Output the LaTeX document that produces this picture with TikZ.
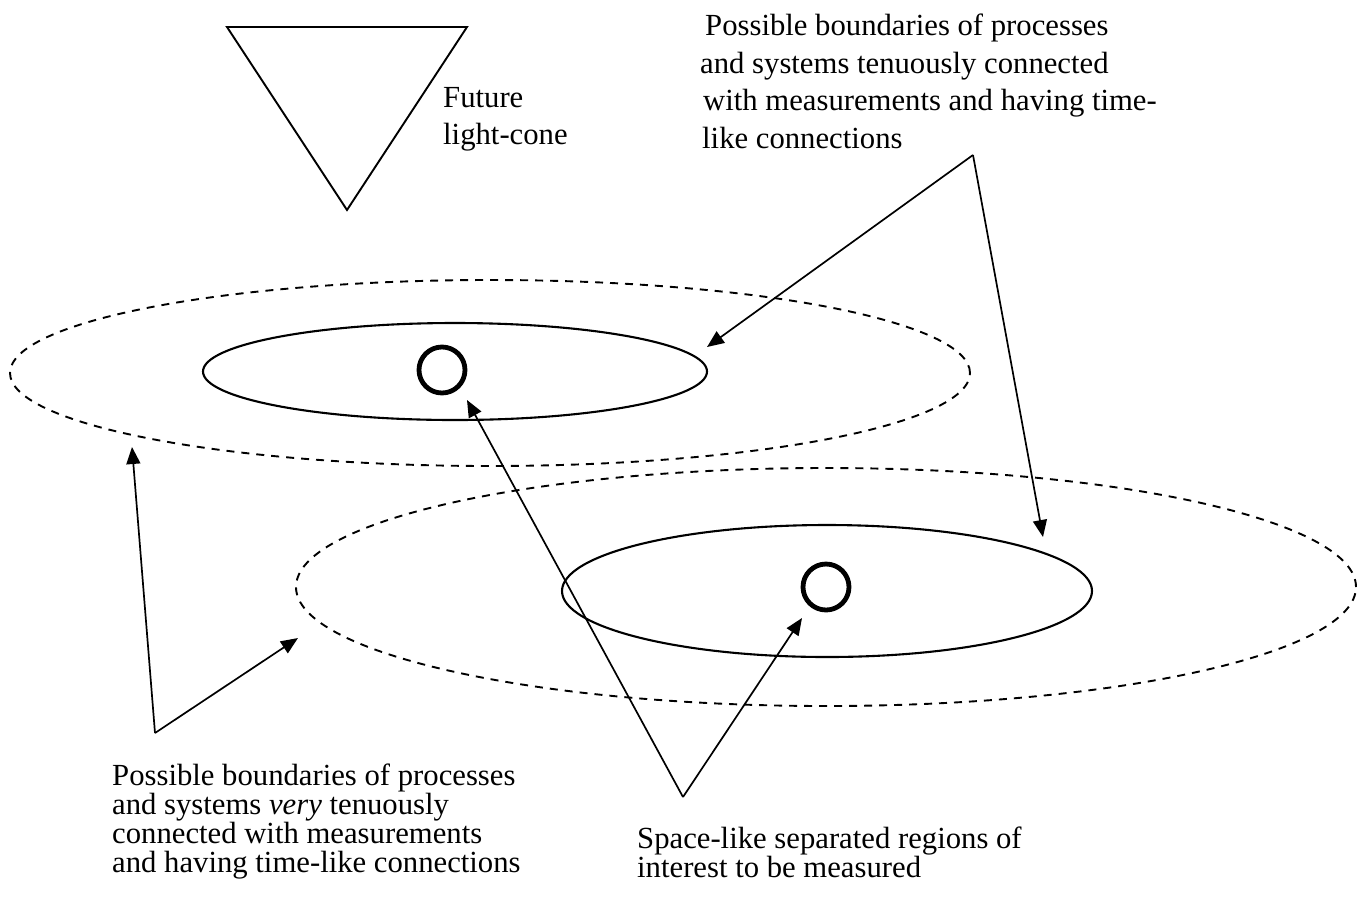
\documentclass[tikz,border=0pt]{standalone}
\usepackage{fontspec}
\setmainfont{Liberation Serif}
\usetikzlibrary{arrows.meta}
\begin{document}
\begin{tikzpicture}[x=1pt,y=-1pt,
  lbl/.style={anchor=north west, inner sep=0pt, align=left},
  tight/.style={font=\fontsize{30.7}{29}\selectfont},
  loose/.style={font=\fontsize{30.7}{37.5}\selectfont},
  conn/.style={line width=1.7pt, -{Triangle[length=17pt,width=14pt]}},
  solidell/.style={line width=2.1pt},
  dashell/.style={line width=1.9pt, dash pattern=on 8pt off 7pt},
  spot/.style={line width=4.8pt},
  cone/.style={line width=1.9pt, line join=miter}]
\useasboundingbox (0,0) rectangle (1359,898);

% future light-cone
\draw[cone] (227,27) -- (467,27) -- (347,210) -- cycle;
\node[lbl, loose] (future) at (443,87) {Future\\light-cone};

% regions
\draw[dashell] (490,373) ellipse [x radius=480pt, y radius=93pt];
\draw[solidell] (455,371.5) ellipse [x radius=252pt, y radius=48.5pt];
\draw[spot] (442,370) circle [radius=23pt];

\draw[dashell] (826,587) ellipse [x radius=530pt, y radius=119pt];
\draw[solidell] (827,591) ellipse [x radius=265pt, y radius=66pt];
\draw[spot] (826,587) circle [radius=23pt];

% labels
\node[lbl, loose] (toplbl) at (700,14) {\hspace{5pt}Possible boundaries of processes\\and systems tenuously connected\\\hspace{3pt}with measurements and having time-\\\hspace{2pt}like connections};
\node[lbl, tight] (leftlbl) at (112,764) {Possible boundaries of processes\\and systems \textit{very} tenuously\\connected with measurements\\and having time-like connections};
\node[lbl, tight] (midlbl) at (637,827) {Space-like separated regions of\\interest to be measured};

% connector apexes and tips
\coordinate (apexTR) at (973,155);
\coordinate (tipInner1) at (707,347);
\coordinate (tipInner2) at (1043,537);
\coordinate (apexBL) at (155,733);
\coordinate (tipDash1) at (132,447);
\coordinate (tipDash2) at (298,638);
\coordinate (apexBC) at (683,797);
\coordinate (tipSpot1) at (467,400);
\coordinate (tipSpot2) at (802,618);

\draw[conn] (apexTR) -- (tipInner1);
\draw[conn] (apexTR) -- (tipInner2);
\draw[conn] (apexBL) -- (tipDash1);
\draw[conn] (apexBL) -- (tipDash2);
\draw[conn] (apexBC) -- (tipSpot1);
\draw[conn] (apexBC) -- (tipSpot2);
\end{tikzpicture}
\end{document}
